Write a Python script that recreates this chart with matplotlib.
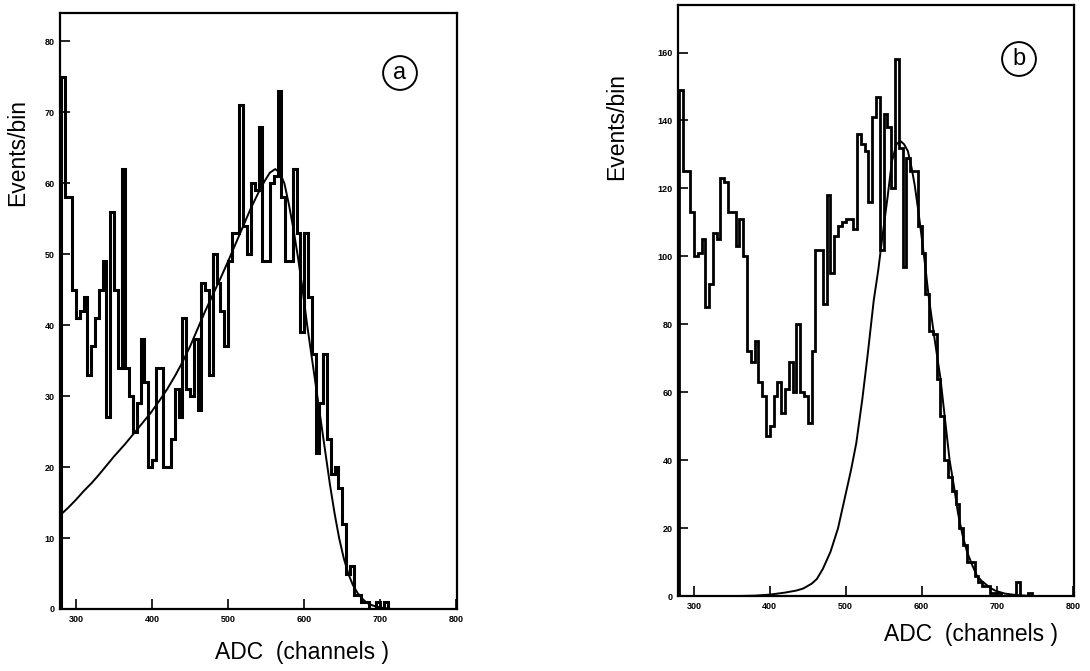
import numpy as np
import matplotlib
matplotlib.use("Agg")
import matplotlib.pyplot as plt

plt.rcParams['font.family'] = ['Liberation Sans', 'DejaVu Sans']

# ---------------- data ----------------
bin_width = 5
a_start = 280
a_counts = [75, 58, 58, 45, 41, 42, 44, 33, 37, 41, 45, 49, 27, 56, 45, 34, 62, 34, 30, 25,
            29, 38, 32, 20, 21, 34, 34, 20, 20, 24, 31, 27, 41, 31, 30, 38, 28, 46, 45, 33,
            50, 46, 42, 37, 49, 53, 53, 71, 54, 50, 60, 59, 68, 49, 49, 60, 61, 73, 58, 49,
            49, 62, 53, 39, 53, 44, 36, 22, 29, 36, 24, 19, 20, 17, 12, 5, 6, 2, 2, 1,
            1, 0, 0, 1, 0, 1, 0]
a_fit_x = [279, 290, 300, 310, 321, 330, 340, 350, 365, 375, 385, 398, 410, 420, 431, 440,
           450, 460, 470, 480, 490, 500, 510, 520, 530, 540, 548, 555, 562, 568, 574, 580,
           586, 592, 598, 604, 610, 616, 622, 628, 634, 640, 646, 652, 658, 664, 670, 676,
           682, 690, 700, 712]
a_fit_y = [13.2, 14.3, 15.4, 16.6, 17.8, 18.9, 20.2, 21.5, 23.3, 24.6, 25.9, 27.6, 29.4,
           31.0, 33.0, 34.8, 37.0, 39.5, 42.0, 44.3, 46.6, 49.0, 51.5, 54.0, 56.5, 58.7,
           60.3, 61.5, 62.0, 61.5, 60.0, 57.0, 53.5, 49.5, 45.0, 40.0, 35.5, 31.0, 26.5,
           22.0, 17.5, 13.5, 10.0, 7.2, 5.0, 3.4, 2.3, 1.5, 0.9, 0.5, 0.2, 0.05]

b_start = 280
b_counts = [149, 125, 125, 113, 100, 101, 105, 85, 92, 107, 105, 123, 122, 113, 113, 103,
            111, 100, 72, 69, 75, 63, 59, 47, 50, 59, 63, 54, 61, 69, 60, 80, 60, 59, 51, 72,
            102, 102, 86, 118, 95, 106, 109, 110, 111, 111, 108, 136, 133, 131, 116, 141, 147,
            102, 142, 138, 120, 158, 132, 97, 129, 125, 125, 109, 101, 89, 78, 77, 64, 53, 40,
            35, 31, 27, 20, 15, 10, 10, 6, 4, 3, 3, 1, 1, 1, 0, 0, 0, 0, 4, 0, 0, 1, 0]
b_fit_x = [360, 380, 400, 420, 435, 444, 455, 462, 470, 480, 490, 499, 507, 514, 522, 529,
           537, 543, 548, 555, 561, 567, 572, 577, 582, 587, 591, 596, 600, 605, 609, 617,
           625, 631, 637, 643, 648, 654, 660, 667, 673, 679, 685, 692, 698, 710, 724, 745]
b_fit_y = [0.0, 0.1, 0.4, 1.0, 1.6, 2.2, 3.6, 5.0, 8.0, 13.0, 20.0, 29.0, 37.0, 45.0, 58.0,
           71.0, 87.0, 96.0, 105.0, 117.0, 128.0, 133.0, 134.0, 133.0, 131.0, 126.0, 121.0,
           113.0, 106.0, 97.0, 89.0, 76.0, 64.0, 52.0, 40.0, 32.0, 24.5, 18.0, 13.0, 9.0,
           6.0, 4.5, 3.4, 2.2, 1.5, 0.7, 0.3, 0.0]

x_ticks = [300, 400, 500, 600, 700, 800]
a_yticks = [0, 10, 20, 30, 40, 50, 60, 70, 80]
b_yticks = [0, 20, 40, 60, 80, 100, 120, 140, 160]
panel_tags = ['a', 'b']
x_label = 'ADC  (channels )'
y_label = 'Events/bin'

# ---------------- figure ----------------
W, H = 1090, 671
fig = plt.figure(figsize=(W / 100, H / 100), dpi=100)
fig.patch.set_facecolor('white')


def box(l, t, r, b):
    return [l / W, 1 - b / H, (r - l) / W, (b - t) / H]


ax_a = fig.add_axes(box(60, 13, 457, 609))
ax_b = fig.add_axes(box(678, 5, 1074, 596))


def style(ax, yticks, ymax):
    ax.set_xlim(279, 801)
    ax.set_ylim(0, ymax)
    ax.set_xticks(x_ticks)
    ax.set_yticks(yticks)
    ax.tick_params(direction='in', length=7, width=1.2, labelsize=6.5, pad=4)
    for lab in ax.get_xticklabels() + ax.get_yticklabels():
        lab.set_fontweight('bold')
    for s in ax.spines.values():
        s.set_linewidth(1.6)


# panel a
edges_a = a_start + bin_width * np.arange(len(a_counts) + 1)
ax_a.stairs(a_counts, edges_a, color='black', lw=2.2, baseline=0)
ax_a.plot(a_fit_x, a_fit_y, color='black', lw=1.4)
style(ax_a, a_yticks, 84)

# panel b
edges_b = b_start + bin_width * np.arange(len(b_counts) + 1)
ax_b.stairs(b_counts, edges_b, color='black', lw=2.0, baseline=0)
ax_b.plot(b_fit_x, b_fit_y, color='black', lw=1.4)
style(ax_b, b_yticks, 174)

# circled tags
circ = dict(boxstyle='circle,pad=0.25', fc='white', ec='black', lw=1.4)
fig.text(400 / W, 1 - 73 / H, panel_tags[0], fontsize=17, ha='center', va='center', bbox=circ)
fig.text(1019 / W, 1 - 59 / H, panel_tags[1], fontsize=17, ha='center', va='center', bbox=circ)

# axis labels
fig.text(18 / W, 1 - 153 / H, y_label, rotation=90, fontsize=16.5, ha='center', va='center')
fig.text(617 / W, 1 - 127 / H, y_label, rotation=90, fontsize=16.5, ha='center', va='center')
fig.text(302 / W, 1 - 652 / H, x_label, fontsize=16.5, ha='center', va='center')
fig.text(971 / W, 1 - 634 / H, x_label, fontsize=16.5, ha='center', va='center')

fig.savefig('out.png', dpi=100, facecolor='white')
